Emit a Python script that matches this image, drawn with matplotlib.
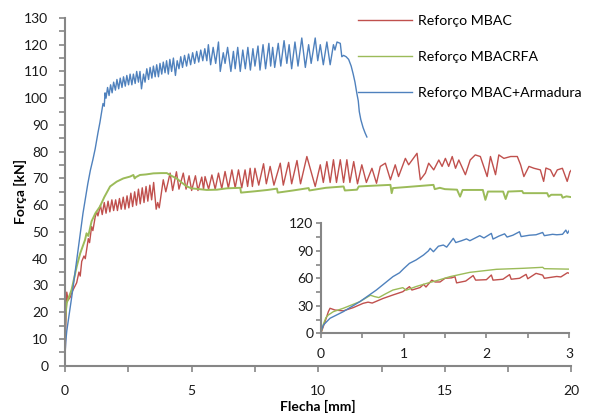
import numpy as np
import matplotlib
matplotlib.use("Agg")
import matplotlib.pyplot as plt
from matplotlib.ticker import MultipleLocator

plt.rcParams["font.family"] = ["Lato", "DejaVu Sans"]

# Main curves: Flecha [mm] vs Força [kN]
mbac_x = [0, 0.03, 0.07, 0.12, 0.2, 0.3, 0.46, 0.55, 0.6, 0.66, 0.75, 0.8, 0.92, 0.97, 1.05, 1.1,
          1.19, 1.25, 1.3, 1.4, 1.47, 1.55, 1.62, 1.7, 1.77, 1.85, 1.92, 2.0, 2.07, 2.15, 2.22,
          2.3, 2.37, 2.45, 2.52, 2.6, 2.67, 2.75, 2.82, 2.9, 2.97, 3.05, 3.12, 3.2, 3.27, 3.35,
          3.42, 3.5, 3.6, 3.66, 3.72, 3.88, 3.98, 4.15, 4.25, 4.4, 4.5, 4.67, 4.78, 4.9, 5.0,
          5.15, 5.25, 5.4, 5.47, 5.53, 5.67, 5.8, 5.93, 6.06, 6.19, 6.32, 6.45, 6.59, 6.72,
          6.85, 6.98, 7.11, 7.21, 7.31, 7.4, 7.5, 7.65, 7.84, 7.95, 8.1, 8.25, 8.5, 8.62, 8.83,
          8.95, 9.16, 9.3, 9.55, 9.88, 10.08, 10.2, 10.34, 10.47, 10.6, 10.72, 10.87, 11.0,
          11.13, 11.25, 11.4, 11.55, 11.72, 11.9, 12.12, 12.3, 12.45, 12.65, 12.85, 13.04,
          13.17, 13.44, 13.57, 13.9, 14.03, 14.23, 14.36, 14.56, 14.76, 14.89, 15.02, 15.15,
          15.29, 15.42, 15.55, 15.81, 16.0, 16.2, 16.4, 16.67, 16.8, 17.0, 17.13, 17.33, 17.6,
          17.86, 17.99, 18.12, 18.32, 18.52, 18.77, 18.9, 18.99, 19.17, 19.3, 19.44, 19.64,
          19.83, 19.94, 20.0]
mbac_y = [0, 15, 27.5, 24.5, 25.5, 28, 31, 35, 33.5, 39, 41, 40, 47.5, 46, 52, 50.5,
          55.5, 57.6, 56, 60, 56.5, 61, 57, 61.5, 57.5, 62, 58, 62, 58, 62.5, 58.5,
          63, 58.5, 63.5, 59, 64.5, 59.5, 65, 60, 66, 60.5, 66.5, 61, 67, 61.5, 67.5,
          62, 68.5, 58.5, 61, 59, 69.5, 65, 72, 65.5, 72.5, 66, 72, 66, 71, 65.5,
          71, 65.5, 70.5, 66, 70.7, 66, 71.3, 66, 72, 66.2, 72.6, 66.4, 73.2, 66.5,
          73.2, 66.5, 73.2, 67, 73.8, 67, 73.8, 67.5, 75.5, 68, 74.5, 67.5, 75.7, 67.5, 76,
          68, 76.7, 68, 78.2, 67, 75.1, 68.5, 76.3, 68.5, 77, 68.5, 77, 68.5,
          77, 68.5, 76.3, 68, 75.1, 68.5, 73.8, 68.2, 74.5, 75.7, 69.5, 75.1,
          70.7, 77.5, 75.1, 79.4, 69.5, 72, 75.7, 73.2, 76.9, 74.5, 77.5, 74.5,
          78.2, 73.8, 76.9, 71.4, 76.9, 78.8, 78.2, 70.7, 78.2, 71.4, 78.8, 77.5, 78.2,
          78.2, 75.1, 70.7, 74.5, 73.8, 73.2, 68.9, 73.9, 73.2, 70.7, 73.2, 73.8,
          68.9, 72.5, 73.2]

rfa_x = [0, 0.03, 0.07, 0.26, 0.46, 0.6, 0.79, 0.85, 0.92, 1.05, 1.2, 1.38, 1.55, 1.78, 2.04,
         2.3, 2.57, 2.7, 2.75, 2.8, 2.96, 3.2, 3.49, 3.8, 4.02, 4.2, 4.41, 4.6, 4.81, 5.0, 5.3,
         5.6, 6.0, 6.39, 6.92, 6.95, 7.5, 8.0, 8.37, 8.4, 9.0, 9.62, 9.65, 10.3, 11.0, 11.05,
         11.53, 11.6, 12.2, 12.85, 12.9, 12.95, 13.5, 14.55, 14.6, 14.8, 15.0, 15.48, 15.6,
         15.7, 16.5, 16.6, 16.7, 17.3, 17.4, 17.5, 18.05, 18.1, 19.04, 19.1, 19.2, 19.6,
         19.65, 19.8, 20.0]
rfa_y = [14, 20, 23.5, 28.4, 37, 42, 47, 49.5, 48.5, 54, 57, 59.5, 63, 67, 68.8,
         70, 70.7, 71.3, 70, 70.5, 71.3, 71.5, 71.9, 72, 72, 71, 70, 68.5, 67, 66.3, 66,
         65.7, 65.8, 66.3, 66.5, 64.7, 65.2, 65.7, 66.2, 64.7, 65.5, 66.4, 65.5, 66.5, 67, 65.5,
         65.8, 67, 67.3, 67.6, 64.5, 66.4, 66.8, 67.6, 66, 66.5, 66, 65.8, 63.2,
         65.7, 65.7, 62, 65.1, 65.1, 62.3, 65.1, 65.3, 64.5, 64.5, 63.2, 63.9, 63.9,
         62.8, 63.3, 63]

arm_x = [0, 0.03, 0.07, 0.3, 0.5, 0.71, 0.9, 1.0, 1.1, 1.19, 1.3, 1.38, 1.45, 1.5, 1.55, 1.58,
         1.62, 1.68, 1.74, 1.80, 1.86, 1.92, 1.99, 2.05, 2.12, 2.18, 2.25, 2.31, 2.38, 2.44,
         2.51, 2.57, 2.64, 2.70, 2.77, 2.83, 2.90, 2.96, 3.02, 3.10, 3.16, 3.23, 3.30, 3.36,
         3.43, 3.49, 3.56, 3.62, 3.69, 3.75, 3.82, 3.88, 3.95, 4.01, 4.08, 4.14, 4.21, 4.28,
         4.36, 4.43, 4.50, 4.57, 4.64, 4.72, 4.80, 4.88, 4.96, 5.04, 5.12, 5.20, 5.28, 5.36,
         5.44, 5.52, 5.60, 5.66, 5.75, 5.85, 5.95, 6.06, 6.13, 6.25, 6.32, 6.42, 6.55, 6.65,
         6.72, 6.82, 6.92, 7.02, 7.12, 7.22, 7.32, 7.42, 7.50, 7.62, 7.70, 7.82, 7.92, 8.05,
         8.12, 8.20, 8.28, 8.42, 8.52, 8.65, 8.76, 8.85, 8.95, 9.08, 9.20, 9.35, 9.49, 9.62,
         9.72, 9.88, 9.98, 10.08, 10.20, 10.34, 10.47, 10.60, 10.66, 10.74, 10.87, 10.93,
         11.0, 11.1, 11.2, 11.3, 11.38, 11.45, 11.52, 11.58, 11.62, 11.68, 11.77, 11.85, 11.92]
arm_y = [4, 9, 13, 28, 42, 57, 68, 73, 77, 81, 87, 91, 95, 98, 97, 102,
         100, 104, 101, 105, 102, 106, 103, 107, 103.5, 107.5, 104, 108, 104.5, 108.5,
         105, 109, 105, 109, 105.5, 110, 106, 110, 103.5, 109, 106, 111, 107, 111.5,
         107.5, 112, 108, 112.5, 108, 113, 109, 113.5, 109.5, 114, 109, 114.5, 110, 115,
         108.5, 114, 111, 115.5, 111.5, 116, 112, 116.5, 112.5, 117, 113, 117.5, 113.5, 118,
         114, 118.5, 114, 120, 112.5, 119, 113, 121, 110, 117, 113, 119, 110, 117.5,
         111, 119, 110, 118, 111, 119, 110.5, 118.5, 112, 119.5, 110.5, 120, 111, 120.5,
         112, 119, 111.5, 120.5, 112, 121.5, 113, 120, 111, 121, 112, 122.5, 111.5, 120,
         113, 122.5, 114, 120, 112.5, 121, 112.5, 120, 118, 121, 120.5, 115.5,
         116, 115.5, 114.5, 112, 109, 106, 102, 99, 95, 92, 89, 87, 85.5]

# Detail of the first 3 mm
in_mbac_x = [0, 0.05, 0.09, 0.11, 0.17, 0.27, 0.39, 0.51, 0.57, 0.62, 0.75, 0.87, 0.99, 1.07,
             1.1, 1.2, 1.24, 1.27, 1.34, 1.38, 1.44, 1.5, 1.58, 1.62, 1.64, 1.75, 1.84, 1.87,
             2.0, 2.06, 2.08, 2.2, 2.28, 2.3, 2.4, 2.48, 2.5, 2.6, 2.68, 2.7, 2.85, 2.9, 2.98, 3.0]
in_mbac_y = [0, 12.7, 23.6, 27.3, 25.4, 24.5, 28, 32.7, 34, 33, 38, 41.8, 45.4, 50.9,
             47.2, 50, 53.4, 50.5, 58, 56, 56, 60, 60.5, 61.8, 55, 57, 63, 58,
             58.5, 63.6, 58, 59, 64, 59, 60, 64.3, 59.5, 65.4, 63.5, 60, 62, 61.5, 66.1, 65.5]

in_rfa_x = [0, 0.03, 0.06, 0.09, 0.15, 0.27, 0.47, 0.57, 0.6, 0.65, 0.7, 0.78, 0.87, 0.99,
            1.03, 1.15, 1.28, 1.42, 1.56, 1.8, 2.12, 2.44, 2.68, 2.7, 3.0]
in_rfa_y = [0, 10, 17, 20, 23.6, 27.3, 34.5, 40, 41.5, 40, 39, 43, 47.2, 49.8,
            47, 51, 54.5, 58, 61.8, 66.5, 69.8, 70.9, 72, 70.5, 70]

in_arm_x = [0, 0.03, 0.11, 0.27, 0.47, 0.67, 0.87, 0.95, 1.0, 1.07, 1.15, 1.24, 1.3, 1.32,
            1.36, 1.42, 1.48, 1.52, 1.6, 1.63, 1.7, 1.76, 1.8, 1.92, 1.97, 2.06, 2.08, 2.15,
            2.22, 2.25, 2.32, 2.4, 2.42, 2.52, 2.6, 2.68, 2.7, 2.8, 2.85, 2.92, 2.96, 2.98, 3.0]
in_arm_y = [2, 9, 16.4, 23.6, 34.5, 47.2, 61.8, 66, 70.5, 76.3, 80, 85.4, 90, 92.7,
            89, 95, 96.3, 94, 103.6, 99, 101, 103, 101, 106.5, 104, 109, 102.8, 106,
            108.5, 105, 107, 110.8, 105.5, 107, 107.5, 110, 106.5, 108, 107.5, 108, 112.6, 109, 112]

red = "#C0504D"
green = "#9BBB59"
blue = "#4F81BD"
axis_grey = "#868686"


def style_axes(ax, ticklen):
    for side in ("top", "right"):
        ax.spines[side].set_visible(False)
    for side in ("left", "bottom"):
        ax.spines[side].set_color(axis_grey)
        ax.spines[side].set_linewidth(1.5)
    ax.tick_params(which="both", direction="out", length=ticklen, width=1.2,
                   color=axis_grey, labelsize=10, labelcolor="#1a1a1a")


fig = plt.figure(figsize=(5.91, 4.17), dpi=100)
ax = fig.add_axes([0.110, 0.123, 0.857, 0.834])
ax.plot(mbac_x, mbac_y, color=red, lw=1.0, label="Reforço MBAC")
ax.plot(rfa_x, rfa_y, color=green, lw=1.4, label="Reforço MBACRFA")
ax.plot(arm_x, arm_y, color=blue, lw=1.0, label="Reforço MBAC+Armadura")
ax.set_xlim(0, 20)
ax.set_ylim(0, 130)
ax.xaxis.set_major_locator(MultipleLocator(5))
ax.xaxis.set_minor_locator(MultipleLocator(2.5))
ax.yaxis.set_major_locator(MultipleLocator(10))
ax.yaxis.set_minor_locator(MultipleLocator(5))
style_axes(ax, 4)
ax.tick_params(axis="x", pad=10)
ax.tick_params(axis="y", pad=8)
ax.set_xlabel("Flecha [mm]", fontsize=10, fontweight="bold", labelpad=2)
ax.set_ylabel("Força [kN]", fontsize=10, fontweight="bold", labelpad=-2)
leg = ax.legend(loc="upper right", bbox_to_anchor=(1.045, 1.045), frameon=False,
                fontsize=10.2, handlelength=3.8, handletextpad=0.45, labelspacing=1.7)
for line in leg.get_lines():
    line.set_linewidth(1.0)

ins = fig.add_axes([0.543, 0.2007, 0.420, 0.2638])
ins.plot(in_mbac_x, in_mbac_y, color=red, lw=1.0)
ins.plot(in_rfa_x, in_rfa_y, color=green, lw=1.0)
ins.plot(in_arm_x, in_arm_y, color=blue, lw=1.0)
ins.set_xlim(0, 3)
ins.set_ylim(0, 120)
ins.xaxis.set_major_locator(MultipleLocator(1))
ins.xaxis.set_minor_locator(MultipleLocator(0.5))
ins.yaxis.set_major_locator(MultipleLocator(30))
ins.yaxis.set_minor_locator(MultipleLocator(15))
style_axes(ins, 3.5)
ins.tick_params(axis="x", pad=7)
ins.tick_params(axis="y", pad=2)

fig.savefig("out.png", dpi=100)
